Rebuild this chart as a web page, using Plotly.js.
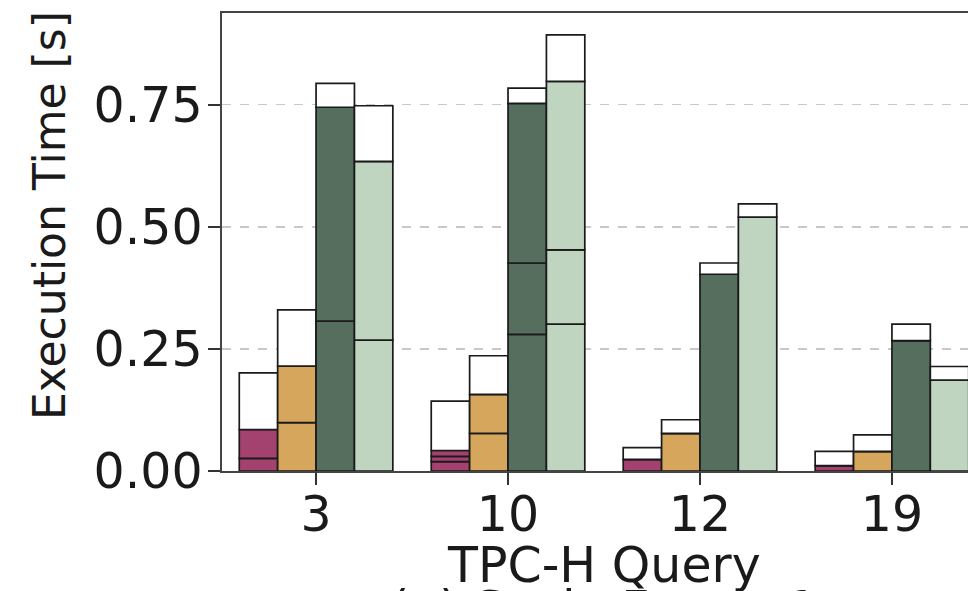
<!DOCTYPE html>
<html>
<head>
<meta charset="utf-8">
<script src="https://cdn.plot.ly/plotly-3.0.1.min.js"></script>
<style>
html,body{margin:0;padding:0;overflow:hidden;background:#fff;}
#wrap{width:968px;height:591px;overflow:hidden;}
#chart{width:1000px;height:640px;}
</style>
</head>
<body>
<div id="wrap"><div id="chart"></div></div>
<script>
// TPC-H queries (categories)
const queries = ["3", "10", "12", "19"];
// segment heights per system: phase1, phase2, phase3 (coloured), overhead (white)
const magentaP1 = [0.026, 0.019, 0.024, 0.011];
const magentaP2 = [0.059, 0.011, 0.000, 0.000];
const magentaP3 = [0.000, 0.012, 0.000, 0.000];
const magentaOv = [0.116, 0.101, 0.024, 0.029];

const orangeP1 = [0.099, 0.077, 0.077, 0.040];
const orangeP2 = [0.116, 0.080, 0.000, 0.000];
const orangeP3 = [0.000, 0.000, 0.000, 0.000];
const orangeOv = [0.115, 0.079, 0.028, 0.034];

const darkP1 = [0.307, 0.280, 0.403, 0.267];
const darkP2 = [0.438, 0.146, 0.000, 0.000];
const darkP3 = [0.000, 0.327, 0.000, 0.000];
const darkOv = [0.049, 0.031, 0.023, 0.034];

const lightP1 = [0.268, 0.301, 0.520, 0.186];
const lightP2 = [0.366, 0.152, 0.000, 0.000];
const lightP3 = [0.000, 0.345, 0.000, 0.000];
const lightOv = [0.114, 0.095, 0.027, 0.028];

const yTicks = [0, 0.25, 0.5, 0.75];
const yTickText = ["0.00", "0.25", "0.50", "0.75"];

const systems = [
  {name: "A", color: "#a4426f", segs: [magentaP1, magentaP2, magentaP3, magentaOv]},
  {name: "B", color: "#d5a65b", segs: [orangeP1, orangeP2, orangeP3, orangeOv]},
  {name: "C", color: "#556e5d", segs: [darkP1, darkP2, darkP3, darkOv]},
  {name: "D", color: "#c0d5c0", segs: [lightP1, lightP2, lightP3, lightOv]}
];

const traces = [];
systems.forEach((s, si) => {
  let base = queries.map(() => 0);
  s.segs.forEach((seg, k) => {
    traces.push({
      type: "bar",
      x: queries,
      y: seg,
      base: base.slice(),
      offsetgroup: String(si),
      marker: {color: k === 3 ? "#ffffff" : s.color, line: {color: "#1a1a1a", width: 1.7}},
      showlegend: false,
      hoverinfo: "skip"
    });
    base = base.map((b, i) => b + seg[i]);
  });
});

const font = "DejaVu Sans, sans-serif";
const layout = {
  width: 1000, height: 640,
  margin: {l: 222, r: 14, t: 13, b: 169},
  paper_bgcolor: "#fff", plot_bgcolor: "#fff",
  barmode: "group", bargap: 0.2, bargroupgap: 0,
  font: {family: font, color: "#1a1a1a"},
  xaxis: {
    type: "category", range: [-0.49, 3.49],
    showline: true, linecolor: "#444", linewidth: 1.6, mirror: true,
    ticks: "outside", ticklen: 12, tickwidth: 1.5, tickcolor: "#333",
    ticklabelstandoff: -12,
    tickfont: {size: 49, family: font, color: "#1a1a1a"},
    showgrid: false
  },
  yaxis: {
    range: [0, 0.938],
    tickvals: yTicks, ticktext: yTickText,
    showline: true, linecolor: "#444", linewidth: 1.6, mirror: true,
    ticks: "outside", ticklen: 12, tickwidth: 1.5, tickcolor: "#333",
    ticklabelstandoff: -4,
    tickfont: {size: 49, family: font, color: "#1a1a1a"},
    showgrid: true, gridcolor: "#c8c8c8", gridwidth: 1.3, griddash: "dash",
    zeroline: false
  },
  annotations: [
    {
      text: "Execution Time [s]", xref: "paper", yref: "paper",
      x: -0.225, y: 0.557, xanchor: "center", yanchor: "middle", textangle: -90,
      showarrow: false, font: {size: 44, family: font, color: "#1a1a1a"}
    },
    {
      text: "TPC-H Query", xref: "paper", yref: "paper",
      x: 0.5, y: -0.206, xanchor: "center", yanchor: "middle",
      showarrow: false, font: {size: 49, family: font, color: "#1a1a1a"}
    },
    {
      text: "(a) Scale Factor 1", xref: "paper", yref: "paper",
      x: 0.5, y: -0.302, xanchor: "center", yanchor: "middle",
      showarrow: false, font: {size: 49, family: font, color: "#1a1a1a"}
    }
  ]
};

Plotly.newPlot("chart", traces, layout, {displayModeBar: false, staticPlot: true});
</script>
</body>
</html>
